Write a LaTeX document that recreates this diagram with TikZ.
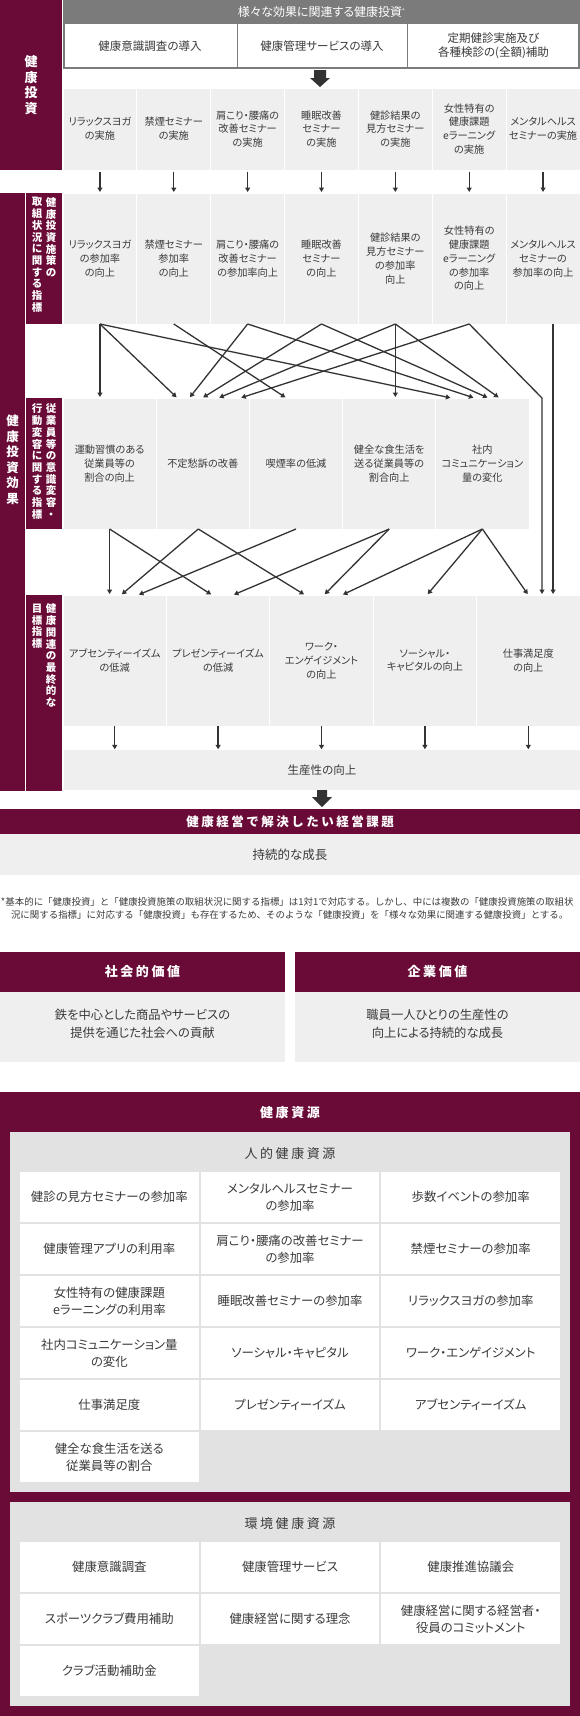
\documentclass[tikz,border=0pt]{standalone}
\usepackage{fontspec}
\setmainfont{Noto Sans CJK JP}[RawFeature=+palt]
\newfontfamily\lsfont{Noto Sans CJK JP}[LetterSpace=20]
\newfontfamily\plainjp{Noto Sans CJK JP}
\usetikzlibrary{arrows.meta,calc}
\definecolor{maroon}{HTML}{6A0B37}
\definecolor{hgray}{HTML}{7B7B7B}
\definecolor{lgray}{HTML}{EFEFEF}
\definecolor{pgray}{HTML}{E2E2E2}
\definecolor{txt}{HTML}{3A3A3A}
\definecolor{dark}{HTML}{333333}
\begin{document}
\begin{tikzpicture}[x=1pt,y=-1pt,
  every node/.style={inner sep=0pt, outer sep=0pt},
  cellA/.style={fill=lgray, draw=white, line width=0.8pt, anchor=north west, align=center, text=txt, font=\fontsize{10.2}{13.8}\selectfont},
  rowa/.style={cellA, minimum width=73.857pt, minimum height=82pt},
  rowb/.style={cellA, minimum width=73.857pt, minimum height=131pt},
  rowc/.style={cellA, minimum width=93.2pt, minimum height=131pt},
  rowd/.style={cellA, minimum width=103.4pt, minimum height=131pt},
  hfont/.style={align=center, text=txt, font=\fontsize{11.5}{13.6}\selectfont},
  vlab/.style={text=white, align=center, anchor=north, font=\bfseries\fontsize{10.5}{11.7}\selectfont},
  vbig/.style={text=white, align=center, font=\bfseries\fontsize{12.5}{15.5}\selectfont},
  bandtitle/.style={text=white, font=\lsfont\bfseries\fontsize{12.5}{14}\selectfont},
  valtitle/.style={text=white, font=\lsfont\bfseries\fontsize{13}{15}\selectfont},
  valtext/.style={text=txt, align=center, font=\fontsize{12.3}{18}\selectfont},
  pantitle/.style={text=txt, font=\lsfont\fontsize{13}{15}\selectfont},
  rcell/.style={fill=white, anchor=north west, minimum width=178.7pt, minimum height=50pt, align=center, text=txt, font=\fontsize{12.4}{17}\selectfont},
  conn/.style={draw=dark, line width=1.3pt, -{Triangle[length=4.5pt,width=5pt]}, shorten >=1pt},
  fnote/.style={anchor=west, text=txt, font=\plainjp\fontsize{9.45}{11}\selectfont}
]
\fill[white] (0,0) rectangle (580,1716);
\useasboundingbox (0,0) rectangle (580,1716);

% ---------- top sidebar ----------
\fill[maroon] (0,0) rectangle (62,170);
\node[vbig, font=\bfseries\fontsize{13}{15.5}\selectfont] (lab0) at (31,85) {健\\康\\投\\資};

% ---------- header ----------
\fill[hgray] (63,0) rectangle (580,23);
\node[text=white, font=\fontsize{12}{13}\selectfont] (htitle) at (321.5,12) {様々な効果に関連する健康投資\raisebox{3pt}{\fontsize{6}{6}\selectfont *}};
\filldraw[fill=white, draw=hgray, line width=2pt] (64,23) rectangle (579,68);
\draw[hgray, line width=1pt] (237,23) -- (237,68);
\draw[hgray, line width=1pt] (407,23) -- (407,68);
\node[hfont] (h1) at (150,46) {健康意識調査の導入};
\node[hfont] (h2) at (322,46) {健康管理サービスの導入};
\node[hfont] (h3) at (493.5,46) {定期健診実施及び\\各種検診の(全額)補助};

% big arrow 1
\fill[dark] (314,70) -- (326,70) -- (326,78) -- (330,78) -- (320,87) -- (310,78) -- (314,78) -- cycle;

% ---------- row a ----------
\node[rowa] (a1) at (63,88) {リラックスヨガ\\の実施};
\node[rowa] (a2) at (136.857,88) {禁煙セミナー\\の実施};
\node[rowa] (a3) at (210.714,88) {肩こり・腰痛の\\改善セミナー\\の実施};
\node[rowa] (a4) at (284.571,88) {睡眠改善\\セミナー\\の実施};
\node[rowa] (a5) at (358.429,88) {健診結果の\\見方セミナー\\の実施};
\node[rowa] (a6) at (432.286,88) {女性特有の\\健康課題\\eラーニング\\の実施};
\node[rowa] (a7) at (506.143,88) {メンタルヘルス\\セミナーの実施};

% ---------- outer sidebar ----------
\fill[maroon] (0,193) rectangle (25,791);
\node[vbig] (lab1) at (12.5,460) {健\\康\\投\\資\\効\\果};

% ---------- row b ----------
\fill[maroon] (26,193) rectangle (62,324);
\node[vlab] (lb1) at (51,197.5) {健\\康\\投\\資\\施\\策\\の};
\node[vlab] (lb2) at (37,197.5) {取\\組\\状\\況\\に\\関\\す\\る\\指\\標};
\node[rowb] (b1) at (63,193) {リラックスヨガ\\の参加率\\の向上};
\node[rowb] (b2) at (136.857,193) {禁煙セミナー\\参加率\\の向上};
\node[rowb] (b3) at (210.714,193) {肩こり・腰痛の\\改善セミナー\\の参加率向上};
\node[rowb] (b4) at (284.571,193) {睡眠改善\\セミナー\\の向上};
\node[rowb] (b5) at (358.429,193) {健診結果の\\見方セミナー\\の参加率\\向上};
\node[rowb] (b6) at (432.286,193) {女性特有の\\健康課題\\eラーニング\\の参加率\\の向上};
\node[rowb] (b7) at (506.143,193) {メンタルヘルス\\セミナーの\\参加率の向上};

% ---------- row c ----------
\fill[maroon] (26,398) rectangle (62,529);
\node[vlab] (lc1) at (51,404) {従\\業\\員\\等\\の\\意\\識\\変\\容\\・};
\node[vlab] (lc2) at (37,404) {行\\動\\変\\容\\に\\関\\す\\る\\指\\標};
\node[rowc] (c1) at (63,398) {運動習慣のある\\従業員等の\\割合の向上};
\node[rowc] (c2) at (156.2,398) {不定愁訴の改善};
\node[rowc] (c3) at (249.4,398) {喫煙率の低減};
\node[rowc] (c4) at (342.6,398) {健全な食生活を\\送る従業員等の\\割合向上};
\node[rowc] (c5) at (435.8,398) {社内\\コミュニケーション\\量の変化};

% ---------- row d ----------
\fill[maroon] (26,595) rectangle (62,791);
\node[vlab] (ld1) at (51,604) {健\\康\\関\\連\\の\\最\\終\\的\\な};
\node[vlab] (ld2) at (37,604) {目\\標\\指\\標};
\node[rowd] (d1) at (63,595) {アブセンティーイズム\\の低減};
\node[rowd] (d2) at (166.4,595) {プレゼンティーイズム\\の低減};
\node[rowd] (d3) at (269.8,595) {ワーク・\\エンゲイジメント\\の向上};
\node[rowd] (d4) at (373.2,595) {ソーシャル・\\キャピタルの向上};
\node[rowd] (d5) at (476.6,595) {仕事満足度\\の向上};

% productivity
\node[cellA, draw=none, minimum width=516pt, minimum height=40pt, font=\fontsize{11.5}{13}\selectfont] (prod) at (64,750) {生産性の向上};

% ---------- connectors ----------
\foreach \i in {1,...,7} \draw[conn, shorten <=1.7pt] (a\i.south) -- (b\i.north);

\draw[conn] (b1.south) -- (b1.south |- c1.north);
\draw[conn] (b1.south) -- ([xshift=-25.5pt]c2.north);
\draw[conn] (b1.south) -- ([xshift=-31pt]c5.north);
\draw[conn] (b2.south) -- ([xshift=-9.7pt]c3.north);
\draw[conn] (b3.south) -- ([xshift=-13.5pt]c2.north);
\draw[conn] (b3.south) -- ([xshift=-8pt]c5.north);
\draw[conn] (b4.south) -- ([xshift=-0.5pt]c2.north);
\draw[conn] (b4.south) -- ([xshift=6pt]c5.north);
\draw[conn] (b5.south) -- (b5.south |- c4.north);
\draw[conn] (b5.south) -- ([xshift=15.5pt]c2.north);
\draw[conn] (b5.south) -- ([xshift=17pt]c5.north);
\draw[conn] (b6.south) -- ([xshift=37.5pt]c2.north);
\coordinate (bend) at (542,398);
\draw[conn] (b6.south) -- (bend) -- (bend |- d5.north);
\draw[conn] ([xshift=10pt]b7.south) -- ([xshift=10pt]b7.south |- d5.north);

\draw[conn] (c1.south) -- (c1.south |- d1.north);
\draw[conn] (c1.south) -- ([xshift=-6.1pt]d2.north);
\draw[conn] ([xshift=-4.5pt]c2.south) -- ([xshift=6.3pt]d1.north);
\draw[conn] ([xshift=-4.5pt]c2.south) -- ([xshift=-16.5pt]d3.north);
\draw[conn] (c3.south) -- ([xshift=23.3pt]d1.north);
\draw[conn] (c4.south) -- ([xshift=14.9pt]d2.north);
\draw[conn] (c4.south) -- ([xshift=2.5pt]d3.north);
\draw[conn] (c5.south) -- ([xshift=20.5pt]d3.north);
\draw[conn] (c5.south) -- ([xshift=2.1pt]d4.north);
\draw[conn] (c5.south) -- (d5.north);

\foreach \i in {1,...,5} \draw[conn, shorten >=0.7pt] (d\i.south) -- (d\i.south |- prod.north);

% big arrow 2
\fill[dark] (317,790) -- (327,790) -- (327,797) -- (332,797) -- (322,807) -- (312,797) -- (317,797) -- cycle;

% ---------- management issue ----------
\fill[maroon] (0,809) rectangle (580,834);
\node[bandtitle] (issue) at (290,821.5) {健康経営で解決したい経営課題};
\fill[lgray] (0,834) rectangle (580,875);
\node[text=txt, font=\fontsize{12.5}{14}\selectfont] (growth) at (290,855) {持続的な成長};

% ---------- footnote ----------
\node[fnote] (fn1) at (1,902) {*基本的に「健康投資」と「健康投資施策の取組状況に関する指標」は1対1で対応する。しかし、中には複数の「健康投資施策の取組状};
\node[fnote] (fn2) at (11,915) {況に関する指標」に対応する「健康投資」も存在するため、そのような「健康投資」を「様々な効果に関連する健康投資」とする。};

% ---------- values ----------
\fill[maroon] (0,952) rectangle (285,992);
\fill[lgray] (0,992) rectangle (285,1062);
\fill[maroon] (295,952) rectangle (580,992);
\fill[lgray] (295,992) rectangle (580,1062);
\node[valtitle] (v1) at (142.5,972) {社会的価値};
\node[valtitle] (v2) at (437.5,972) {企業価値};
\node[valtext] (v1t) at (142.5,1024) {鉄を中心とした商品やサービスの\\提供を通じた社会への貢献};
\node[valtext] (v2t) at (437.5,1024) {職員一人ひとりの生産性の\\向上による持続的な成長};

% ---------- resources ----------
\fill[maroon] (0,1092) rectangle (580,1716);
\node[valtitle] (res) at (290,1113) {健康資源};
\fill[pgray] (10,1132) rectangle (570,1492);
\node[pantitle] (hum) at (290,1154) {人的健康資源};
\node[rcell] (p11) at (20,1172) {健診の見方セミナーの参加率};
\node[rcell] (p12) at (200.7,1172) {メンタルヘルスセミナー\\の参加率};
\node[rcell] (p13) at (381.4,1172) {歩数イベントの参加率};
\node[rcell] (p21) at (20,1224) {健康管理アプリの利用率};
\node[rcell] (p22) at (200.7,1224) {肩こり・腰痛の改善セミナー\\の参加率};
\node[rcell] (p23) at (381.4,1224) {禁煙セミナーの参加率};
\node[rcell] (p31) at (20,1276) {女性特有の健康課題\\eラーニングの利用率};
\node[rcell] (p32) at (200.7,1276) {睡眠改善セミナーの参加率};
\node[rcell] (p33) at (381.4,1276) {リラックスヨガの参加率};
\node[rcell] (p41) at (20,1328) {社内コミュニケーション量\\の変化};
\node[rcell] (p42) at (200.7,1328) {ソーシャル・キャピタル};
\node[rcell] (p43) at (381.4,1328) {ワーク・エンゲイジメント};
\node[rcell] (p51) at (20,1380) {仕事満足度};
\node[rcell] (p52) at (200.7,1380) {プレゼンティーイズム};
\node[rcell] (p53) at (381.4,1380) {アブセンティーイズム};
\node[rcell] (p61) at (20,1432) {健全な食生活を送る\\従業員等の割合};

\fill[pgray] (10,1502) rectangle (570,1706);
\node[pantitle] (env) at (290,1524) {環境健康資源};
\node[rcell] (e11) at (20,1542) {健康意識調査};
\node[rcell] (e12) at (200.7,1542) {健康管理サービス};
\node[rcell] (e13) at (381.4,1542) {健康推進協議会};
\node[rcell] (e21) at (20,1594) {スポーツクラブ費用補助};
\node[rcell] (e22) at (200.7,1594) {健康経営に関する理念};
\node[rcell] (e23) at (381.4,1594) {健康経営に関する経営者・\\役員のコミットメント};
\node[rcell] (e31) at (20,1646) {クラブ活動補助金};
\end{tikzpicture}
\end{document}
